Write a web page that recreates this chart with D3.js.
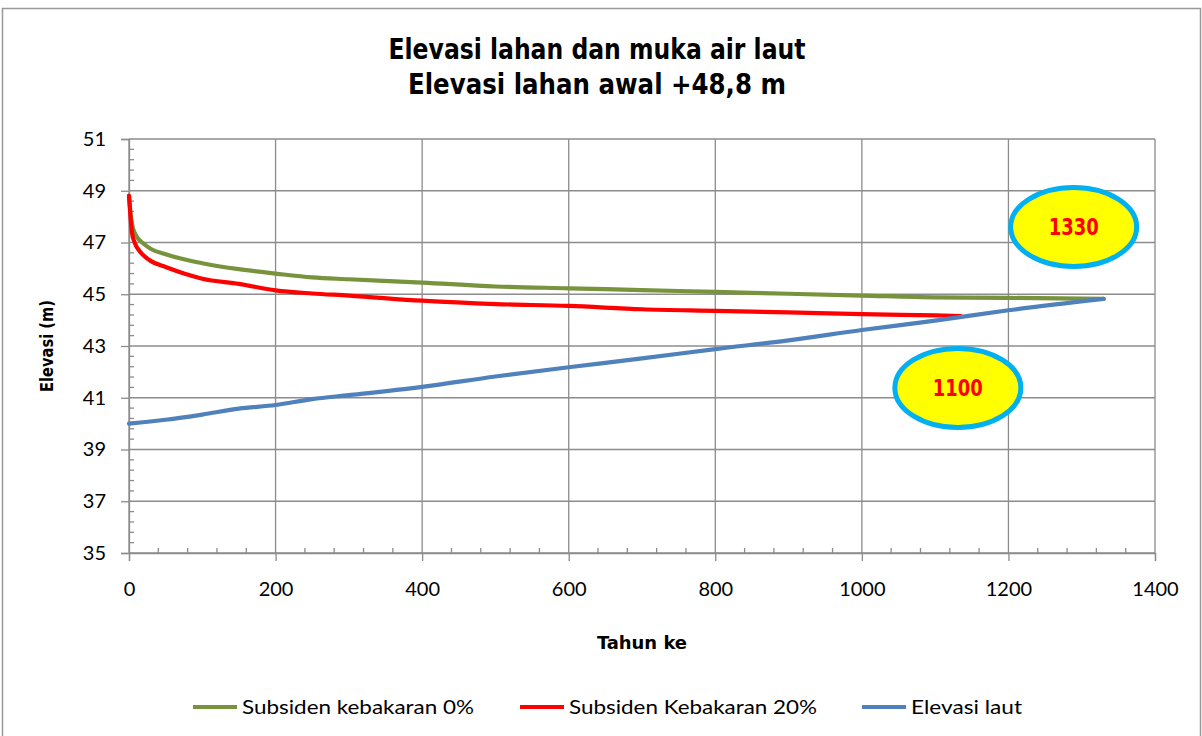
<!DOCTYPE html>
<html><head><meta charset="utf-8">
<script src="https://cdn.jsdelivr.net/npm/d3@7"></script>
<style>
body{margin:0;background:#fff;}
svg{display:block;}
</style></head>
<body>
<svg id="chart" width="1202" height="736"></svg>
<script>
const titleLines = ["Elevasi lahan dan muka air laut", "Elevasi lahan awal +48,8 m"];
const xTicks = [0, 200, 400, 600, 800, 1000, 1200, 1400];
const yTicks = [35, 37, 39, 41, 43, 45, 47, 49, 51];
const seriesNames = ["Subsiden kebakaran 0%", "Subsiden Kebakaran 20%", "Elevasi laut"];
const seriesColors = ["#77933C", "#FF0000", "#4F81BD"];

const greenX = [0, 3, 6, 10, 20, 30, 50, 75, 100, 150, 200, 250, 300, 400, 500, 600, 700, 800, 900, 1000, 1100, 1200, 1330];
const greenY = [48.8, 47.9, 47.5, 47.25, 46.95, 46.75, 46.55, 46.35, 46.2, 45.97, 45.8, 45.65, 45.58, 45.45, 45.3, 45.23, 45.16, 45.09, 45.02, 44.95, 44.88, 44.86, 44.82];
const redX = [0, 2, 4, 7, 10, 15, 20, 30, 50, 75, 100, 150, 200, 250, 300, 400, 500, 600, 700, 800, 900, 1000, 1100, 1135];
const redY = [48.8, 48.0, 47.4, 47.05, 46.85, 46.65, 46.5, 46.28, 46.05, 45.8, 45.6, 45.4, 45.15, 45.03, 44.95, 44.75, 44.62, 44.55, 44.42, 44.36, 44.3, 44.23, 44.18, 44.16];
const blueX = [0, 50, 100, 150, 200, 250, 300, 400, 500, 600, 700, 800, 900, 1000, 1100, 1200, 1330];
const blueY = [40.0, 40.15, 40.35, 40.58, 40.72, 40.95, 41.1, 41.42, 41.82, 42.18, 42.52, 42.88, 43.22, 43.62, 43.98, 44.38, 44.82];

const annoText = ["1330", "1100"];
const annoX = [1289, 1131];
const annoY = [47.6, 41.38];

const svg = d3.select("#chart");
const W = 1202, H = 736;
const m = {left: 129, right: 1155, top: 139, bottom: 553};
const x = d3.scaleLinear().domain([0, 1400]).range([m.left, m.right]);
const y = d3.scaleLinear().domain([35, 51]).range([m.bottom, m.top]);
const font = "'DejaVu Sans Condensed','Liberation Sans Narrow',sans-serif";
const font2 = "Lato,'Open Sans',sans-serif";

svg.append("rect").attr("x", 2.5).attr("y", 8.5).attr("width", W - 4).attr("height", H).attr("fill", "#fff").attr("stroke", "#999").attr("stroke-width", 1.5);

// gridlines
svg.append("g").selectAll("line").data(yTicks).join("line")
  .attr("x1", m.left).attr("x2", m.right).attr("y1", d => y(d)).attr("y2", d => y(d))
  .attr("stroke", "#8c8c8c").attr("stroke-width", 1.3);
svg.append("g").selectAll("line").data(xTicks).join("line")
  .attr("y1", m.top).attr("y2", m.bottom).attr("x1", d => x(d)).attr("x2", d => x(d))
  .attr("stroke", "#8c8c8c").attr("stroke-width", 1.3);

// axes
const xAxis = d3.axisBottom(x).tickValues(xTicks).tickFormat(d3.format("d")).tickSize(8).tickPadding(21);
const gx = svg.append("g").attr("transform", `translate(0,${m.bottom})`).call(xAxis);
gx.select(".domain").attr("stroke", "#8c8c8c").attr("stroke-width", 1.3);
gx.selectAll(".tick line").attr("stroke", "#8c8c8c").attr("stroke-width", 1.3);
gx.selectAll("text").attr("font-family", font2).attr("font-size", 20).attr("fill", "#000");

const yAxis = d3.axisLeft(y).tickValues(yTicks).tickSize(8).tickPadding(15);
const gy = svg.append("g").attr("transform", `translate(${m.left},0)`).call(yAxis);
gy.select(".domain").attr("stroke", "#8c8c8c").attr("stroke-width", 1.3);
gy.selectAll(".tick line").attr("stroke", "#8c8c8c").attr("stroke-width", 1.3);
gy.selectAll("text").attr("font-family", font2).attr("font-size", 20).attr("fill", "#000");

// minor ticks
const xMinor = d3.range(0, 1401, 40).filter(v => v % 200 !== 0);
svg.append("g").selectAll("line").data(xMinor).join("line")
  .attr("x1", d => x(d)).attr("x2", d => x(d)).attr("y1", m.bottom).attr("y2", m.bottom - 5)
  .attr("stroke", "#8c8c8c").attr("stroke-width", 1.3);
const yMinor = d3.range(35, 51.01, 0.4).filter(v => Math.abs((v - 35) / 2 - Math.round((v - 35) / 2)) > 0.01);
svg.append("g").selectAll("line").data(yMinor).join("line")
  .attr("y1", d => y(d)).attr("y2", d => y(d)).attr("x1", m.left).attr("x2", m.left + 5)
  .attr("stroke", "#8c8c8c").attr("stroke-width", 1.3);

// lines
const line = d3.line().x(d => x(d[0])).y(d => y(d[1])).curve(d3.curveMonotoneX);
const series = [d3.zip(greenX, greenY), d3.zip(redX, redY), d3.zip(blueX, blueY)];
series.forEach((s, i) => {
  svg.append("path").datum(s).attr("d", line).attr("fill", "none")
    .attr("stroke", seriesColors[i]).attr("stroke-width", 4.2).attr("stroke-linecap", "round").attr("stroke-linejoin", "round");
});

// annotations
annoText.forEach((t, i) => {
  const cx = x(annoX[i]), cy = y(annoY[i]);
  svg.append("ellipse").attr("cx", cx).attr("cy", cy).attr("rx", 63).attr("ry", 39.5)
    .attr("fill", "#FFFF00").attr("stroke", "#00B0F0").attr("stroke-width", 5);
  svg.append("text").attr("x", cx).attr("y", cy + 8).attr("text-anchor", "middle")
    .attr("font-family", font).attr("font-weight", "bold").attr("font-size", 23).attr("fill", "#FF0000")
    .attr("textLength", 50).attr("lengthAdjust", "spacingAndGlyphs").text(t);
});

// titles
const titleLen = [417, 378];
titleLines.forEach((t, i) => {
  svg.append("text").attr("x", 597).attr("y", 59 + i * 35).attr("text-anchor", "middle")
    .attr("font-family", font).attr("font-weight", "bold").attr("font-size", 28).attr("fill", "#000")
    .attr("textLength", titleLen[i]).attr("lengthAdjust", "spacingAndGlyphs").text(t);
});

svg.append("text").attr("transform", `translate(53,${(m.top + m.bottom) / 2}) rotate(-90)`).attr("text-anchor", "middle")
  .attr("font-family", font).attr("font-weight", "bold").attr("font-size", 18)
  .attr("textLength", 92).attr("lengthAdjust", "spacingAndGlyphs").text("Elevasi (m)");
svg.append("text").attr("x", 642).attr("y", 649).attr("text-anchor", "middle")
  .attr("font-family", font).attr("font-weight", "bold").attr("font-size", 18)
  .attr("textLength", 90).attr("lengthAdjust", "spacingAndGlyphs").text("Tahun ke");

// legend
const legX = [193, 520, 862];
const legLen = [232, 248, 111];
seriesNames.forEach((n, i) => {
  svg.append("line").attr("x1", legX[i]).attr("x2", legX[i] + 44).attr("y1", 707).attr("y2", 707)
    .attr("stroke", seriesColors[i]).attr("stroke-width", 4.2);
  svg.append("text").attr("x", legX[i] + 49).attr("y", 714).attr("font-family", font2)
    .attr("font-size", 19).attr("textLength", legLen[i]).attr("lengthAdjust", "spacingAndGlyphs").text(n);
});
</script>
</body></html>
